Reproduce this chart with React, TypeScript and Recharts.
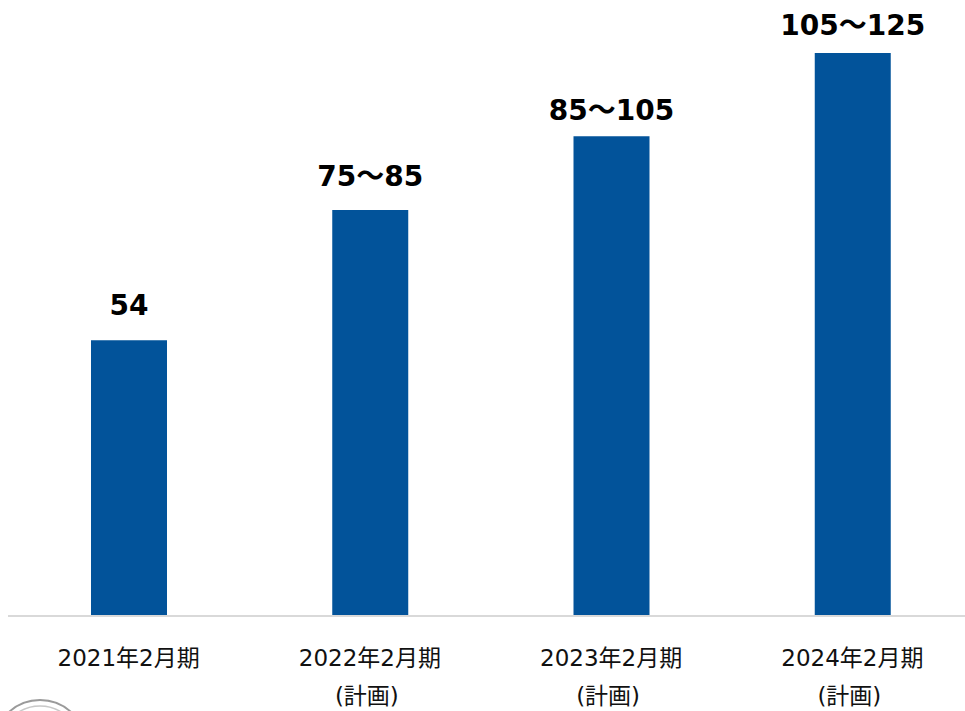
import React from "react";
import { BarChart, Bar, XAxis, YAxis, LabelList } from "recharts";

const periods = ["2021年2月期", "2022年2月期", "2023年2月期", "2024年2月期"];
const periodNotes = ["", "(計画)", "(計画)", "(計画)"];
const barValues = [54, 79.5, 93.9, 110.2];
const valueLabels = ["54", "75～85", "85～105", "105～125"];

const data = periods.map((p, i) => ({
  name: p,
  note: periodNotes[i],
  value: barValues[i],
  label: valueLabels[i],
}));

const labelGap = [25, 24, 16, 18];
const FONT = '"DejaVu Sans", "Noto Sans CJK JP", sans-serif';

const Tick = (props: any) => {
  const { x, y, payload, index } = props;
  const note = periodNotes[index] ?? "";
  return (
    <g>
      <text x={x} y={y + 42} textAnchor="middle" fontSize={23} fill="#111" fontFamily={FONT}>
        {payload.value}
      </text>
      {note ? (
        <text x={x - 3} y={y + 80} textAnchor="middle" fontSize={23} fill="#111" fontFamily={FONT}>
          {note}
        </text>
      ) : null}
    </g>
  );
};

const ValueLabel = (props: any) => {
  const { x, y, width, index } = props;
  return (
    <text
      x={x + width / 2}
      y={y - labelGap[index]}
      textAnchor="middle"
      fontSize={28}
      fontWeight="bold"
      fill="#000"
      fontFamily={FONT}
    >
      {valueLabels[index]}
    </text>
  );
};

export default function App() {
  return (
    <div
      style={{
        position: "absolute",
        left: 0,
        top: 0,
        width: 965,
        height: 711,
        overflow: "hidden",
        background: "#fff",
      }}
    >
      <BarChart
        width={973}
        height={711}
        data={data}
        margin={{ top: 3, right: 0, left: 8, bottom: 65 }}
      >
        <XAxis
          dataKey="name"
          axisLine={{ stroke: "#d9d9d9", strokeWidth: 2 }}
          tickLine={false}
          tick={<Tick />}
          interval={0}
          height={30}
        />
        <YAxis hide domain={[0, 120]} />
        <Bar dataKey="value" fill="#02539A" barSize={76} isAnimationActive={false}>
          <LabelList dataKey="label" content={<ValueLabel />} />
        </Bar>
      </BarChart>
      <svg
        width={100}
        height={20}
        style={{ position: "absolute", left: 0, top: 691 }}
      >
        <circle cx={40} cy={55} r={46} fill="none" stroke="#9a9a9a" strokeWidth={2} />
        <circle cx={40} cy={55} r={40} fill="none" stroke="#c8c8c8" strokeWidth={1.5} />
      </svg>
    </div>
  );
}
